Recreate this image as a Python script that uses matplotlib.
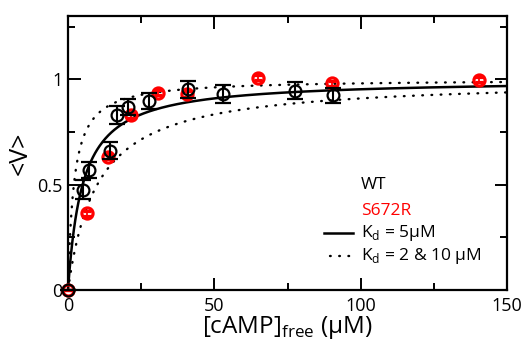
import numpy as np
import matplotlib
matplotlib.use("Agg")
import matplotlib.pyplot as plt
from matplotlib.ticker import MultipleLocator, FixedLocator

plt.rcParams['font.family'] = ['Open Sans', 'DejaVu Sans']
plt.rcParams['mathtext.fontset'] = 'custom'
plt.rcParams['mathtext.rm'] = 'Open Sans'

# WT data
wt_x = [0, 5.0, 7.3, 14.2, 16.7, 20.4, 27.8, 40.9, 52.8, 77.4, 90.5]
wt_y = [0, 0.476, 0.569, 0.66, 0.83, 0.868, 0.896, 0.953, 0.928, 0.945, 0.923]
wt_err = [0, 0.044, 0.039, 0.04, 0.043, 0.04, 0.038, 0.04, 0.043, 0.04, 0.034]

# S672R data
mut_x = [0, 6.4, 13.6, 21.5, 30.6, 40.6, 65.0, 90.3, 140.3]
mut_y = [0, 0.365, 0.633, 0.829, 0.935, 0.93, 1.008, 0.98, 0.998]
mut_err = [0, 0.012, 0.012, 0.012, 0.012, 0.012, 0.012, 0.012, 0.012]

kd_main = 5
kd_bounds = [2, 10]

fig = plt.figure(figsize=(5.26, 3.42), dpi=100)
ax = fig.add_axes([68/526, 1-290/342, (507-68)/526, (290-16)/342])

xs = np.linspace(0, 150, 600)
for kd in kd_bounds:
    ax.plot(xs, xs/(kd+xs), color='black', lw=1.7, linestyle=(0, (0.3, 3.6)),
            dash_capstyle='round', zorder=2)
ax.plot(xs, xs/(kd_main+xs), color='black', lw=1.8, zorder=3)

ax.errorbar(mut_x, mut_y, yerr=mut_err, fmt='o', color='#ff0000', mfc='none',
            mec='#ff0000', ms=8, mew=2.3, elinewidth=1.3, capsize=3, capthick=1.3,
            zorder=4, clip_on=False)
ax.errorbar(wt_x, wt_y, yerr=wt_err, fmt='o', color='black', mfc='none',
            mec='black', ms=8.5, mew=1.6, elinewidth=1.5, capsize=5.5, capthick=1.5,
            zorder=5, clip_on=False)

ax.set_xlim(0, 150)
ax.set_ylim(0, 1.3)

ax.xaxis.set_major_locator(FixedLocator([0, 50, 100, 150]))
ax.xaxis.set_minor_locator(MultipleLocator(25))
ax.yaxis.set_major_locator(FixedLocator([0, 0.5, 1]))
ax.yaxis.set_minor_locator(FixedLocator([0.25, 0.75, 1.25]))
ax.set_xticklabels(['0', '50', '100', '150'])
ax.set_yticklabels(['0', '0.5', '1'])

ax.tick_params(which='both', direction='in', top=True, right=True, width=1.4,
               labelsize=13)
ax.tick_params(axis='x', pad=5)
ax.tick_params(axis='y', pad=4)
ax.tick_params(which='major', length=9)
ax.tick_params(which='minor', length=5)
for s in ax.spines.values():
    s.set_linewidth(1.6)

ax.set_xlabel(r"[cAMP]$_\mathregular{free}$ (μM)", fontsize=17.5, labelpad=-1)
ax.set_ylabel("<V>", fontsize=18, labelpad=3)

# legend
fs = 12.5
fig.text(361/526, 1-185/342, "WT", fontsize=fs, color='black', va='center')
fig.text(361/526, 1-211/342, "S672R", fontsize=fs, color='#ff0000', va='center')
fig.text(361/526, 1-233/342, r"K$_\mathregular{d}$ = 5μM", fontsize=fs, va='center')
fig.text(361/526, 1-256/342, r"K$_\mathregular{d}$ = 2 & 10 μM", fontsize=fs, va='center')
fig.add_artist(plt.Line2D([324/526, 353/526], [1-233/342, 1-233/342], color='black', lw=1.8))
fig.add_artist(plt.Line2D([330/526, 353/526], [1-256/342, 1-256/342], color='black', lw=1.7,
                          linestyle=(0, (0.3, 3.6)), dash_capstyle='round'))

fig.savefig("out.png", dpi=100)
